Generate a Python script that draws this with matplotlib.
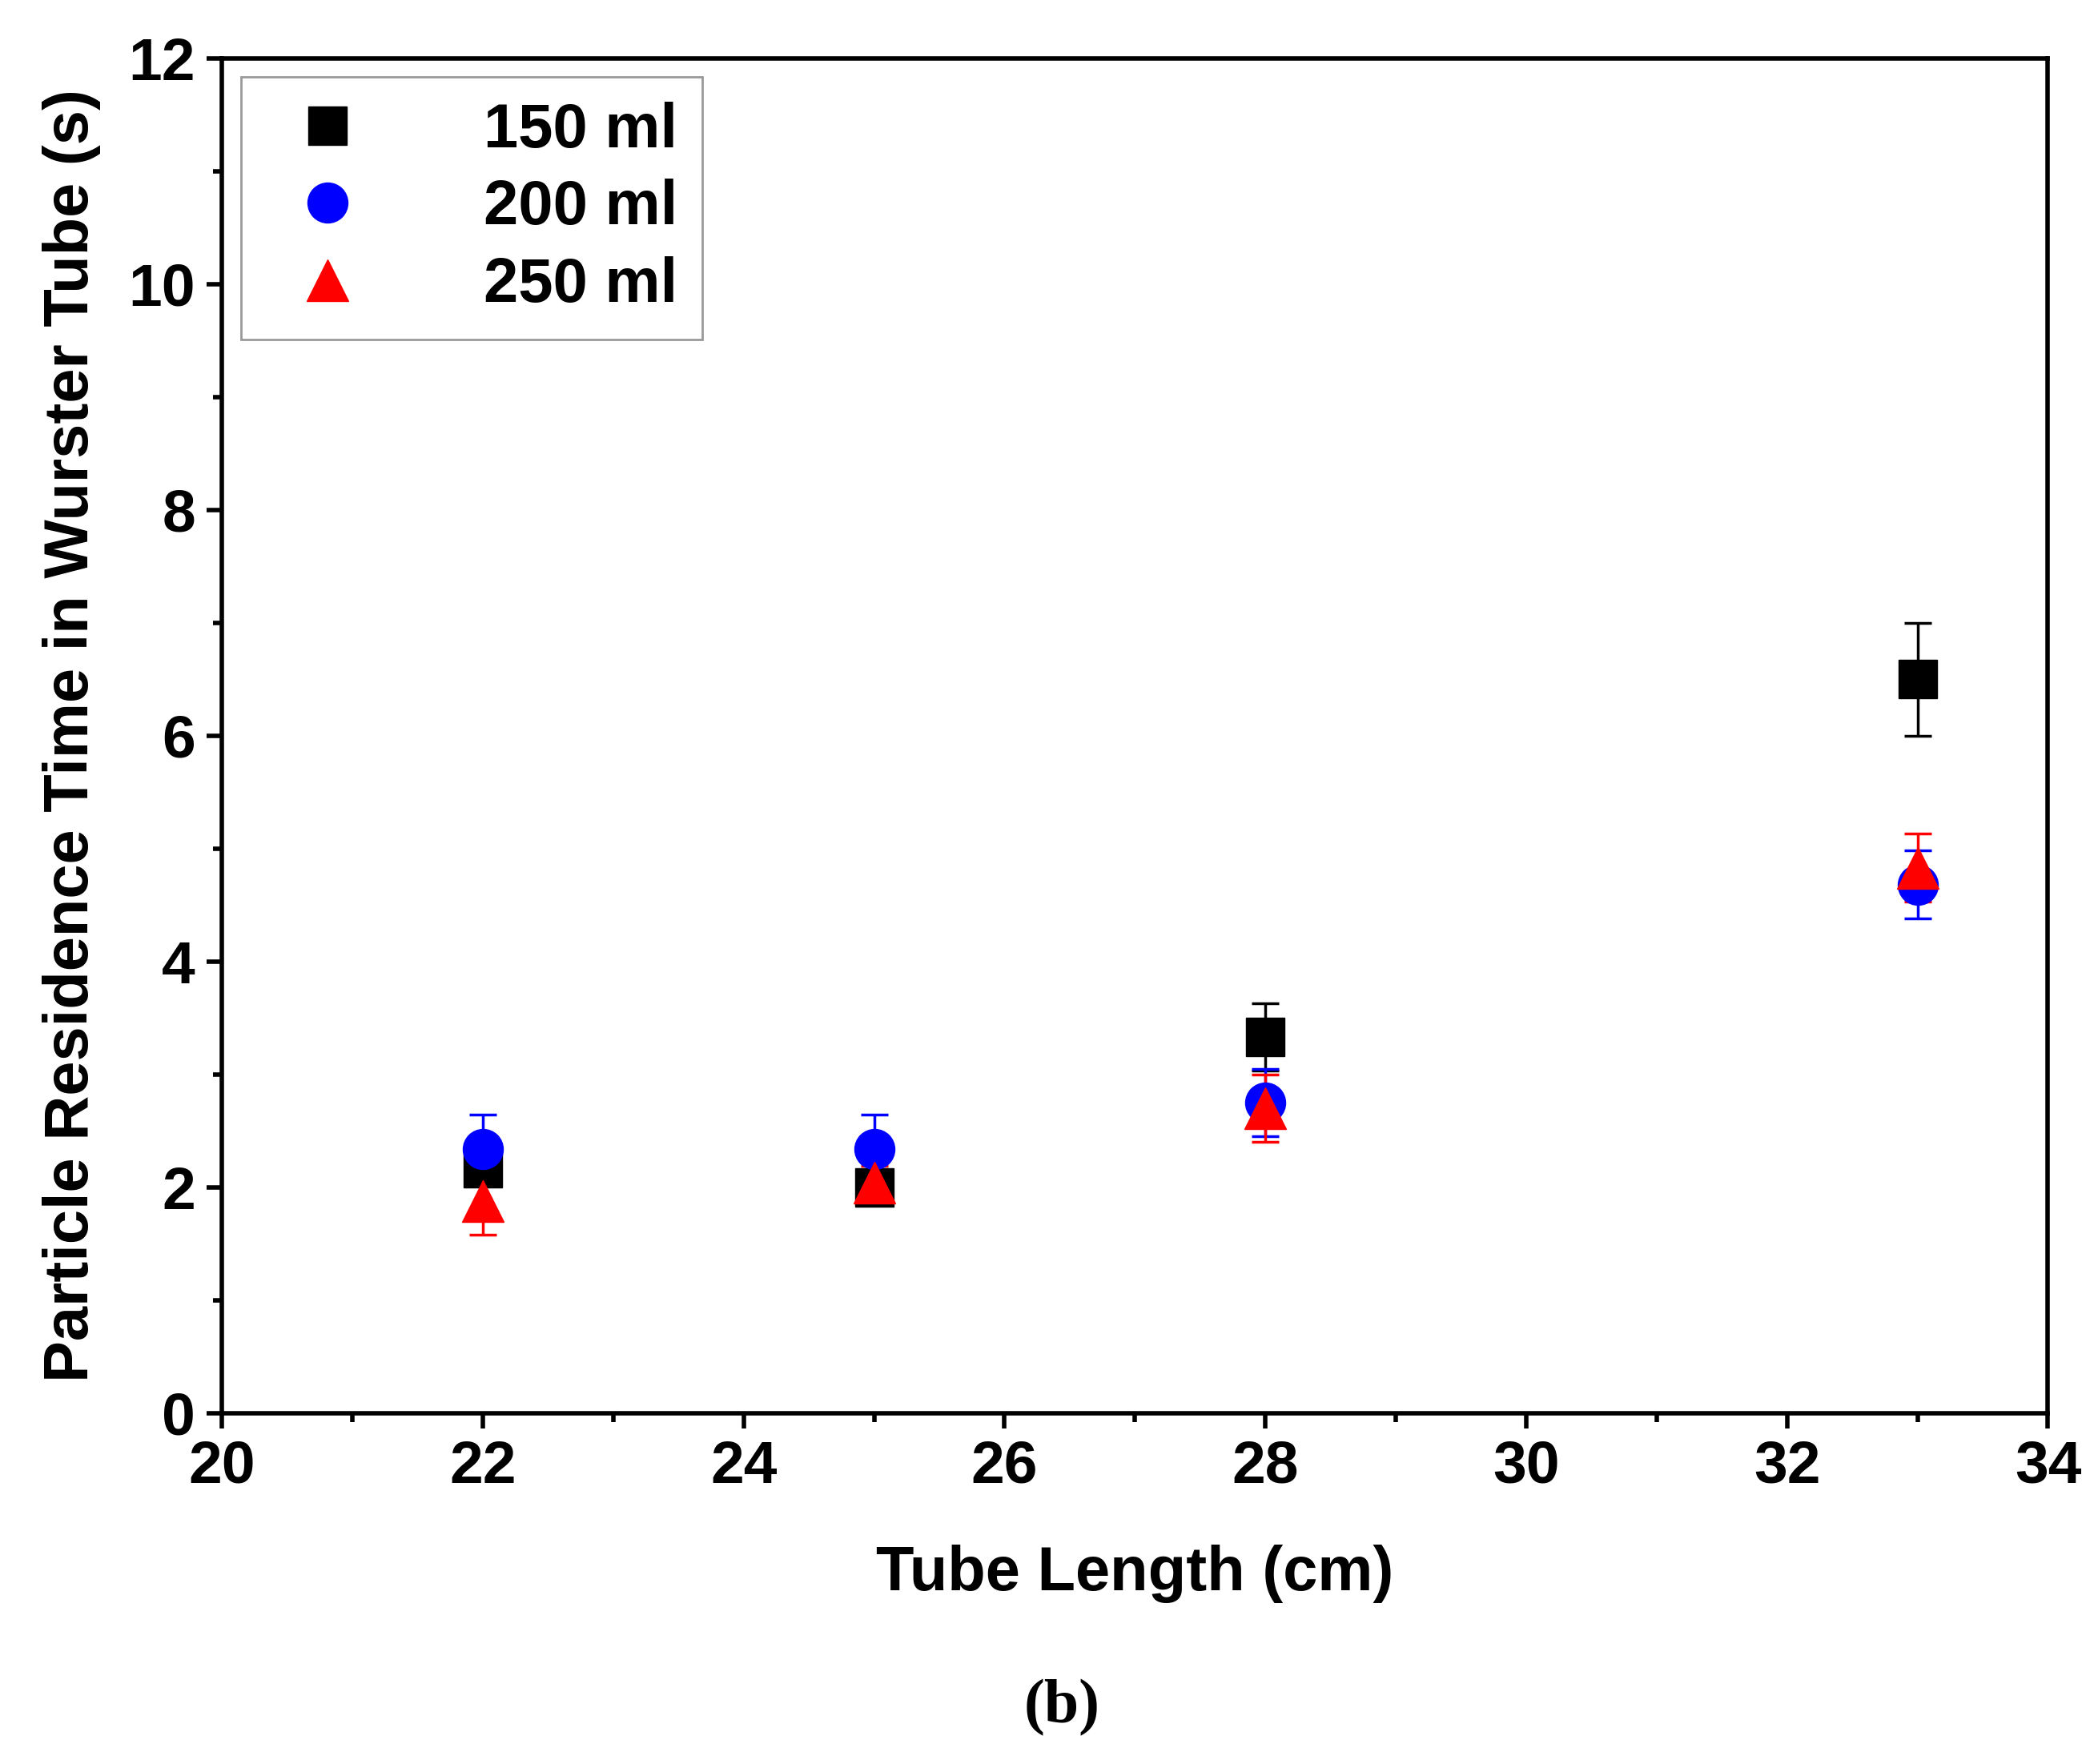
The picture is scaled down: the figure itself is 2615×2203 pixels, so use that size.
import matplotlib
matplotlib.use("Agg")
import matplotlib.pyplot as plt
from matplotlib.ticker import MultipleLocator

x = [22, 25, 28, 33]
series_labels = ["150 ml", "200 ml", "250 ml"]
y150 = [2.17, 2.0, 3.33, 6.5]
e150 = [0.1, 0.1, 0.3, 0.5]
y200 = [2.34, 2.34, 2.75, 4.68]
e200 = [0.3, 0.3, 0.3, 0.3]
y250 = [1.88, 2.04, 2.7, 4.83]
e250 = [0.3, 0.15, 0.3, 0.3]

plt.rcParams["font.family"] = "Liberation Sans"
plt.rcParams["font.weight"] = "bold"
fig = plt.figure(figsize=(26.15, 22.03), dpi=100)
ax = fig.add_axes([0.106, 0.199, 0.872, 0.768])

styles = [("s", "black", y150, e150, 34), ("o", "blue", y200, e200, 36), ("^", "red", y250, e250, 38)]
handles = []
for (m, c, y, e, ms), lab in zip(styles, series_labels):
    h = ax.errorbar(x, y, yerr=e, fmt=m, color=c, ms=ms, ecolor=c, elinewidth=2.5,
                    capsize=12, capthick=2.5, label=lab, zorder=3)
    handles.append(h[0])

ax.set_xlim(20, 34)
ax.set_ylim(0, 12)
ax.xaxis.set_major_locator(MultipleLocator(2))
ax.xaxis.set_minor_locator(MultipleLocator(1))
ax.yaxis.set_major_locator(MultipleLocator(2))
ax.yaxis.set_minor_locator(MultipleLocator(1))
ax.tick_params(which="both", direction="out", width=4, labelsize=54)
ax.tick_params(which="major", length=14, pad=10)
ax.tick_params(which="minor", length=8)
for s in ax.spines.values():
    s.set_linewidth(4)
for t in ax.get_xticklabels() + ax.get_yticklabels():
    t.set_fontweight("bold")
ax.set_xlabel("Tube Length (cm)", fontsize=56, fontweight="bold", labelpad=45)
ax.set_ylabel("Particle Residence Time in Wurster Tube (s)", fontsize=56, fontweight="bold", labelpad=25)

leg = ax.legend(handles, series_labels, loc="upper left", fontsize=56, frameon=True, fancybox=False,
                edgecolor="gray", borderaxespad=0.3, handletextpad=1.5, labelspacing=0.3)
leg.get_frame().set_linewidth(2)
for t in leg.get_texts():
    t.set_fontweight("bold")

fig.text(0.507, 0.032, "(b)", ha="center", va="center", fontsize=56,
         fontweight="bold", family="Liberation Serif")
fig.savefig("out.png", dpi=100)
